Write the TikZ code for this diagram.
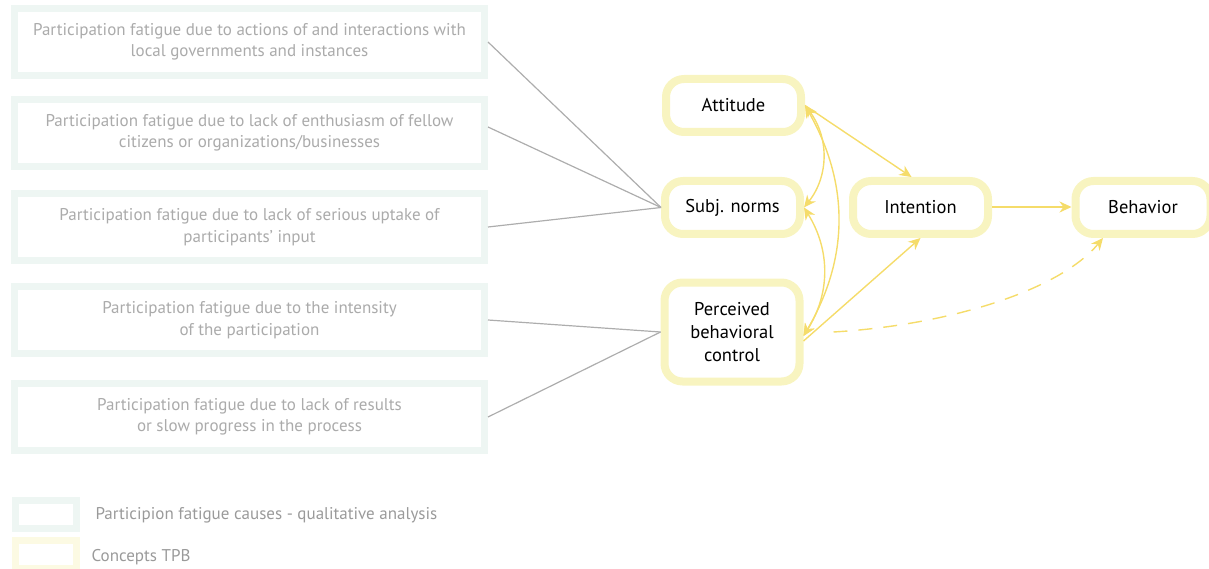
\documentclass[tikz,border=0pt]{standalone}
\usepackage{fontspec}
\setmainfont{PT Sans}
\usetikzlibrary{arrows.meta}

\definecolor{causeborder}{HTML}{EEF6F3}
\definecolor{causetext}{HTML}{ABABAB}
\definecolor{tpbborder}{HTML}{F8F4C0}
\definecolor{tpbarrow}{HTML}{F5DC6A}
\definecolor{linkgrey}{HTML}{ADADAD}

\begin{document}
\begin{tikzpicture}[x=1pt, y=-1pt,
    cause/.style={draw=causeborder, line width=7pt, fill=white, minimum width=470pt, minimum height=67pt,
        align=center, text=causetext, font=\fontsize{17}{21.5}\selectfont},
    tpb/.style={draw=tpbborder, line width=8pt, rounded corners=18pt, fill=white, minimum width=135pt,
        minimum height=53pt, align=center, font=\fontsize{18.5}{23}\selectfont},
    link/.style={draw=linkgrey, line width=1.2pt},
    tpbarr/.style={draw=tpbarrow, line width=1.4pt, -{Stealth[length=12pt, width=11pt]}},
    tpbboth/.style={draw=tpbarrow, line width=1.4pt, {Stealth[length=12pt, width=11pt]}-{Stealth[length=12pt, width=11pt]}}
  ]
\useasboundingbox (0,0) rectangle (1209,569);

\node[cause] (c1) at (249.5,42) {Participation fatigue due to actions of and interactions with\\local governments and instances};
\node[cause] (c2) at (249.5,133) {Participation fatigue due to lack of enthusiasm of fellow\\citizens or organizations/businesses};
\node[cause] (c3) at (249.5,227) {Participation fatigue due to lack of serious uptake of\\participants' input};
\node[cause] (c4) at (249.5,320) {Participation fatigue due to the intensity\\of the participation};
\node[cause] (c5) at (249.5,417) {Participation fatigue due to lack of results\\or slow progress in the process};

\node[tpb] (att) at (733.5,105.5) {Attitude};
\node[tpb] (subj) at (732.5,207.5) {Subj. norms};
\node[tpb, minimum height=99pt] (pbc) at (732,332) {Perceived\\behavioral\\control};
\node[tpb] (intent) at (920.5,207.5) {Intention};
\node[tpb] (behav) at (1143,207.5) {Behavior};

\draw[link] (c1.east) -- (subj.west);
\draw[link] ([yshift=6pt]c2.east) -- (subj.west);
\draw[link] (c3.east) -- (subj.west);
\draw[link] (c4.east) -- (pbc.west);
\draw[link] (c5.east) -- (pbc.west);

\draw[tpbarr] (att.east) -- ([xshift=-9pt]intent.north);
\draw[tpbarr] ([yshift=-9pt]pbc.east) -- (intent.south);
\draw[tpbarr, line width=2pt] ([yshift=0.5pt]intent.east) -- ([yshift=0.5pt]behav.west);
\draw[tpbboth] (att.east) to[bend left=38] (subj.east);
\draw[tpbboth] (subj.east) to[bend left=32] ([yshift=-4pt]pbc.east);
\draw[tpbboth] (att.east) to[bend left=30] ([yshift=-4pt]pbc.east);
\draw[tpbarr, dash pattern=on 14pt off 11pt] ([xshift=30pt]pbc.east) .. controls (950,325) and (1060,290) .. ([xshift=-40pt]behav.south);

% legend
\node[draw=causeborder, line width=7pt, fill=white, minimum width=61pt, minimum height=28pt] (legcause) at (46,514.5) {};
\node[draw=tpbborder!45, line width=7pt, fill=white, minimum width=61pt, minimum height=28pt] (legtpb) at (46,554) {};
\node[anchor=west, text=causetext!90!black, font=\fontsize{17}{20}\selectfont] at (92,515) {Participion fatigue causes - qualitative analysis};
\node[anchor=west, text=causetext!90!black, font=\fontsize{17}{20}\selectfont] at (88,557) {Concepts TPB};
\end{tikzpicture}
\end{document}
